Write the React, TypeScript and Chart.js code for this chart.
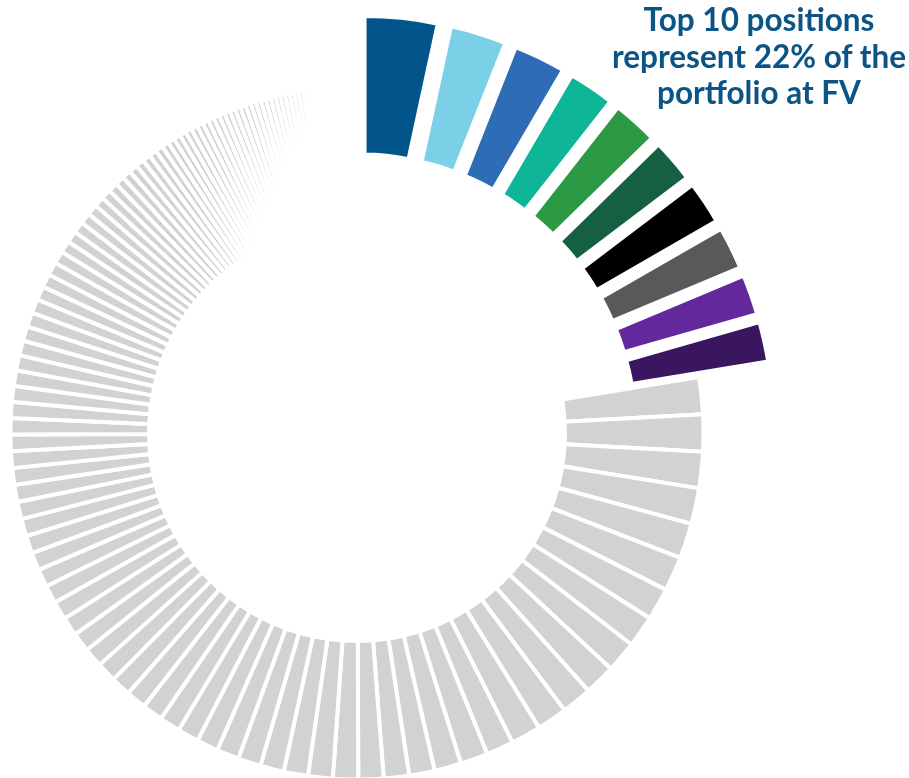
import { useEffect, useRef } from "react";
import { Chart, registerables } from "chart.js";

Chart.register(...registerables);

// Portfolio weights (% of fair value), largest positions first
const topWeights = [3.39, 2.61, 2.42, 2.14, 2.11, 2.01, 2.0, 1.99, 1.875, 1.86];
const topColors = [
  "#02558a",
  "#7bcfe6",
  "#2e6db6",
  "#0fb597",
  "#2c9a44",
  "#156040",
  "#000000",
  "#58595b",
  "#63289c",
  "#3a1560",
];
const otherWeights = [
  1.72, 1.72, 1.69, 1.67, 1.64, 1.61, 1.5, 1.47, 1.46, 1.44, 1.42, 1.42, 1.39, 1.28, 1.28, 1.25, 1.19, 1.18, 1.17,
  1.17, 1.15, 1.13,
  1.1, 1.07, 1.04, 1.01, 0.99, 0.97, 0.96, 0.94, 0.93, 0.92, 0.9, 0.89, 0.875,
  0.86, 0.85, 0.83, 0.83, 0.82, 0.81, 0.81, 0.79, 0.78, 0.78, 0.76,
  0.76, 0.75, 0.74, 0.72, 0.71, 0.69, 0.68, 0.67, 0.65, 0.64, 0.625, 0.61,
  0.58, 0.56, 0.54, 0.53, 0.51, 0.5, 0.47, 0.46, 0.44, 0.43, 0.42, 0.4, 0.39, 0.375, 0.36, 0.35, 0.33,
  0.32, 0.31, 0.305, 0.3, 0.295, 0.29, 0.283, 0.278, 0.272, 0.267, 0.264, 0.261, 0.258, 0.256, 0.25, 0.244,
  0.239, 0.236, 0.233, 0.228, 0.222, 0.219, 0.217, 0.214, 0.211, 0.208,
  0.194, 0.18, 0.167, 0.153, 0.139, 0.133, 0.125, 0.117, 0.111, 0.106, 0.097, 0.092, 0.083, 0.078, 0.072,
  0.067, 0.061, 0.056, 0.05, 0.044, 0.042, 0.039, 0.036, 0.033, 0.031, 0.028, 0.028, 0.025, 0.022, 0.022,
  0.019, 0.019, 0.017,
];
const otherColor = "#d1d2d4";
const headline = ["Top 10 positions", "represent 22% of the", "portfolio at FV"];

const EXPLODE = 71;

const explodeTop = {
  id: "explodeTop",
  afterDatasetUpdate(chart: any, args: any) {
    const meta = chart.getDatasetMeta(args.index);
    meta.data.forEach((arc: any, i: number) => {
      if (i < topWeights.length) {
        const mid = (arc.startAngle + arc.endAngle) / 2;
        arc.x += Math.cos(mid) * EXPLODE;
        arc.y += Math.sin(mid) * EXPLODE;
      }
    });
  },
};

export default function App() {
  const ref = useRef<HTMLCanvasElement>(null);
  useEffect(() => {
    const chart = new Chart(ref.current as HTMLCanvasElement, {
      type: "doughnut",
      data: {
        datasets: [
          {
            data: [...topWeights, ...otherWeights],
            backgroundColor: [...topColors, ...otherWeights.map(() => otherColor)],
            borderColor: "#ffffff",
            borderWidth: 4,
            hoverBorderWidth: 4,
            hoverOffset: 0,
            clip: false,
          } as any,
        ],
      },
      options: {
        responsive: false,
        animation: false,
        events: [],
        radius: 346.5,
        cutout: "60%",
        layout: { padding: { left: 0, right: 195, top: 88, bottom: 0 } },
        plugins: { legend: { display: false }, tooltip: { enabled: false } },
      } as any,
      plugins: [explodeTop],
    });
    return () => chart.destroy();
  }, []);
  return (
    <div style={{ position: "fixed", left: 0, top: 0, width: 909, height: 778, background: "#fff" }}>
      <canvas
        ref={ref}
        width={909}
        height={778}
        style={{ position: "absolute", left: 0, top: 0, width: 909, height: 778 }}
      />
      <div
        style={{
          position: "absolute",
          left: 579,
          top: 1,
          width: 360,
          textAlign: "center",
          fontFamily: "Lato, 'Open Sans', sans-serif",
          fontWeight: 700,
          fontSize: 31.5,
          lineHeight: "36.5px",
          color: "#0b5486",
        }}
      >
        {headline.map((l) => (
          <div key={l}>{l}</div>
        ))}
      </div>
    </div>
  );
}
